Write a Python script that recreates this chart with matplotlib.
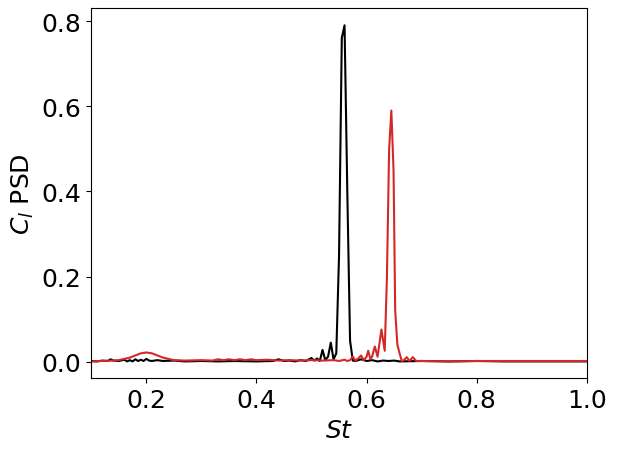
import matplotlib
import numpy as np
matplotlib.use('Agg')
import matplotlib.pyplot as plt

# black series
st_a = [0.10, 0.11, 0.12, 0.13, 0.135, 0.14, 0.15, 0.16, 0.165, 0.17, 0.175,
        0.18, 0.185, 0.19, 0.195, 0.20, 0.205, 0.21, 0.22, 0.23, 0.25, 0.27,
        0.30, 0.33, 0.36, 0.40, 0.43, 0.44, 0.45, 0.46, 0.47, 0.48, 0.49,
        0.50, 0.505, 0.51, 0.515, 0.52, 0.525, 0.53, 0.535, 0.54, 0.545,
        0.55, 0.555, 0.56, 0.565, 0.57, 0.575, 0.58, 0.59, 0.60, 0.61, 0.62,
        0.63, 0.64, 0.65, 0.66, 0.70, 0.75, 0.80, 0.85, 0.90, 0.95, 1.00]
psd_a = [0.002, 0.001, 0.003, 0.002, 0.006, 0.003, 0.002, 0.005, 0.001, 0.004, 0.001,
         0.006, 0.002, 0.005, 0.002, 0.007, 0.003, 0.002, 0.004, 0.002, 0.003, 0.001,
         0.002, 0.001, 0.002, 0.001, 0.002, 0.006, 0.002, 0.003, 0.001, 0.004, 0.002,
         0.009, 0.003, 0.008, 0.002, 0.028, 0.004, 0.012, 0.045, 0.006, 0.02,
         0.25, 0.76, 0.79, 0.40, 0.05, 0.003, 0.002, 0.006, 0.002, 0.004, 0.001,
         0.003, 0.002, 0.003, 0.001, 0.002, 0.001, 0.002, 0.001, 0.001, 0.001, 0.001]

# red series
st_b = [0.10, 0.12, 0.14, 0.15, 0.16, 0.17, 0.18, 0.19, 0.20, 0.21, 0.22, 0.23,
        0.24, 0.25, 0.27, 0.30, 0.32, 0.33, 0.34, 0.35, 0.36, 0.37, 0.38, 0.39,
        0.40, 0.42, 0.44, 0.46, 0.48, 0.50, 0.52, 0.54, 0.55, 0.56, 0.565, 0.57,
        0.575, 0.58, 0.585, 0.59, 0.595, 0.60, 0.603, 0.607, 0.61, 0.615, 0.62,
        0.627, 0.633, 0.637, 0.641, 0.645, 0.649, 0.652, 0.656, 0.66, 0.664,
        0.668, 0.673, 0.678, 0.684, 0.69, 0.70, 0.75, 0.80, 0.90, 1.00]
psd_b = [0.001, 0.002, 0.003, 0.004, 0.007, 0.010, 0.015, 0.020, 0.022, 0.020, 0.015, 0.010,
         0.007, 0.004, 0.003, 0.004, 0.003, 0.006, 0.004, 0.006, 0.004, 0.006, 0.004, 0.006,
         0.004, 0.005, 0.003, 0.004, 0.003, 0.004, 0.003, 0.004, 0.002, 0.005, 0.002, 0.004,
         0.012, 0.003, 0.008, 0.015, 0.004, 0.012, 0.026, 0.006, 0.012, 0.036, 0.012,
         0.076, 0.026, 0.20, 0.50, 0.59, 0.45, 0.12, 0.04, 0.02, 0.002,
         0.004, 0.011, 0.002, 0.011, 0.002, 0.002, 0.001, 0.002, 0.002, 0.002]

fig, ax = plt.subplots(figsize=(6.17, 4.52), dpi=100)
fig.subplots_adjust(left=0.148, right=0.951, top=0.979, bottom=0.161)

ax.plot(st_a, psd_a, color='black', lw=1.5)
ax.plot(st_b, psd_b, color='#d62728', lw=1.5)

ax.set_xlim(0.1, 1.0)
ax.set_xlabel('$St$', fontsize=18)
ax.set_ylabel('$C_l$ PSD', fontsize=18)
ax.tick_params(labelsize=18)

plt.savefig('out.png')
